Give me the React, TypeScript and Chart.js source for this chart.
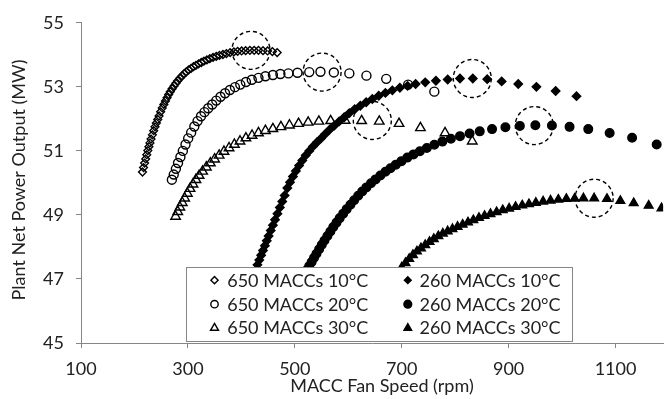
import React, { useEffect, useRef } from 'react';
import { Chart, registerables } from 'chart.js';

Chart.register(...registerables);

// ---------------- DATA ----------------
const X_TICKS = [100, 300, 500, 700, 900, 1100];
const X_MIN = 100;
const X_MAX = 1189;
const Y_MIN = 45;
const Y_MAX = 55;
const Y_STEP = 2;

const X_TITLE = 'MACC Fan Speed (rpm)';
const Y_TITLE = 'Plant Net Power Output (MW)';

const SERIES_LABELS = [
  '650 MACCs 10°C',
  '650 MACCs 20°C',
  '650 MACCs 30°C',
  '260 MACCs 10°C',
  '260 MACCs 20°C',
  '260 MACCs 30°C',
];

// 650 MACCs 10°C
const A_X = [215, 217, 219, 221, 223, 225, 227, 229, 231, 233.5, 236, 238.5, 241, 243.5, 246, 249, 252, 255, 258, 261, 264, 267, 270.5, 274, 277.5, 281, 285, 289, 293, 297, 301.5, 306, 310.5, 315, 320, 325, 330, 335.5, 341, 347, 353, 359, 365.5, 372, 379, 386, 393, 400.5, 408, 416, 424, 432, 440.5, 449, 458, 467];
const A_Y = [50.34, 50.48, 50.62, 50.75, 50.88, 51.01, 51.13, 51.25, 51.37, 51.5, 51.63, 51.75, 51.87, 51.98, 52.09, 52.22, 52.34, 52.45, 52.56, 52.66, 52.76, 52.85, 52.94, 53.03, 53.11, 53.19, 53.27, 53.34, 53.41, 53.47, 53.53, 53.58, 53.63, 53.67, 53.72, 53.76, 53.8, 53.84, 53.88, 53.92, 53.95, 53.98, 54.01, 54.04, 54.07, 54.09, 54.11, 54.12, 54.13, 54.14, 54.14, 54.14, 54.13, 54.12, 54.1, 54.07];

// 650 MACCs 20°C
const B_X = [270, 273.5, 277.5, 281.5, 286, 290.5, 295.5, 300.5, 306, 312, 318, 324.5, 331, 338, 345.5, 353, 361, 369.5, 378.5, 388, 398, 408.5, 419.5, 432, 445, 459, 473, 488, 505, 527, 548, 573, 602, 634, 671, 712, 761];
const B_Y = [50.1, 50.26, 50.44, 50.62, 50.81, 51.0, 51.2, 51.39, 51.57, 51.76, 51.93, 52.08, 52.21, 52.33, 52.45, 52.57, 52.69, 52.8, 52.9, 52.99, 53.07, 53.15, 53.22, 53.28, 53.33, 53.37, 53.4, 53.42, 53.44, 53.46, 53.47, 53.45, 53.42, 53.35, 53.25, 53.07, 52.85];

// 650 MACCs 30°C
const C_X = [277, 281, 285, 289.5, 294, 299, 304, 309.5, 315, 321, 327.5, 334.5, 342, 350, 358.5, 367.5, 377, 387, 397.5, 408.5, 420, 432, 445, 459, 474, 490, 507, 525, 545, 567, 594, 625, 658, 695, 735, 781, 832];
const C_Y = [48.95, 49.1, 49.24, 49.38, 49.52, 49.67, 49.82, 49.96, 50.1, 50.23, 50.36, 50.49, 50.62, 50.74, 50.86, 50.98, 51.09, 51.2, 51.3, 51.4, 51.48, 51.56, 51.63, 51.69, 51.75, 51.8, 51.85, 51.89, 51.92, 51.94, 51.95, 51.94, 51.92, 51.85, 51.72, 51.56, 51.3];

// 260 MACCs 10°C
const D_X = [430, 433.5, 437, 440.5, 444, 447.5, 451, 455, 459, 463, 467.5, 472, 476.5, 481, 486, 491, 496.5, 502, 508, 514, 520.5, 527, 534, 541.5, 549, 557, 565.5, 574, 583, 592.5, 602, 612, 622.5, 633.5, 645, 657, 669.5, 682.5, 696.5, 711, 726, 744, 764, 786, 809, 833, 860, 887, 918, 952, 988, 1027];
const D_Y = [47.44, 47.59, 47.74, 47.89, 48.04, 48.19, 48.34, 48.51, 48.68, 48.85, 49.04, 49.23, 49.42, 49.61, 49.84, 50.02, 50.2, 50.37, 50.54, 50.7, 50.86, 51.0, 51.14, 51.27, 51.39, 51.53, 51.67, 51.79, 51.92, 52.05, 52.18, 52.3, 52.41, 52.52, 52.62, 52.72, 52.81, 52.89, 52.97, 53.03, 53.09, 53.14, 53.19, 53.23, 53.26, 53.26, 53.24, 53.17, 53.09, 53.0, 52.87, 52.71];

// 260 MACCs 20°C
const E_X = [515, 519, 523, 527, 531.5, 536, 540.5, 545.5, 550.5, 555.5, 561, 566.5, 572, 578, 584, 590.5, 597, 604, 611, 618.5, 626, 634, 642.5, 651, 660, 669.5, 679, 689, 699.5, 710.5, 722, 734, 747, 761, 776, 792, 809, 827, 846, 869, 894, 921, 950, 981, 1014, 1049, 1089, 1131, 1177];
const E_Y = [47.05, 47.17, 47.29, 47.4, 47.53, 47.66, 47.79, 47.93, 48.07, 48.2, 48.34, 48.48, 48.62, 48.76, 48.9, 49.04, 49.18, 49.32, 49.46, 49.6, 49.73, 49.86, 49.99, 50.11, 50.23, 50.35, 50.46, 50.57, 50.68, 50.79, 50.89, 50.99, 51.09, 51.19, 51.29, 51.38, 51.46, 51.54, 51.61, 51.68, 51.74, 51.78, 51.8, 51.79, 51.75, 51.68, 51.56, 51.41, 51.2];

// 260 MACCs 30°C
const F_X = [700, 707, 714, 721, 728.5, 736, 744, 752, 760, 768.5, 777, 786, 795, 804.5, 814, 824, 834, 844.5, 855, 866, 877.5, 889, 901, 913, 925.5, 938, 951, 964.5, 978.5, 993, 1008, 1023.5, 1040, 1060, 1084, 1109, 1134, 1162, 1186];
const F_Y = [47.36, 47.5, 47.63, 47.75, 47.86, 47.96, 48.06, 48.16, 48.25, 48.34, 48.42, 48.49, 48.56, 48.63, 48.7, 48.77, 48.84, 48.91, 48.97, 49.03, 49.09, 49.15, 49.2, 49.25, 49.3, 49.34, 49.38, 49.42, 49.45, 49.48, 49.5, 49.51, 49.52, 49.52, 49.5, 49.44, 49.37, 49.29, 49.21];

// maxima highlighted with dashed circles
const HL_X = [418, 551, 645, 832, 948, 1060];
const HL_Y = [54.14, 53.46, 51.95, 53.26, 51.79, 49.52];

// ---------------- STYLE ----------------
const FONT = 'Lato, "Open Sans", sans-serif';
const TEXT = '#222222';
const AXIS = '#868686';
const MARK_LW = 1.4;

const SERIES_X = [A_X, B_X, C_X, D_X, E_X, F_X];
const SERIES_Y = [A_Y, B_Y, C_Y, D_Y, E_Y, F_Y];
const STYLES = [
  { shape: 'rectRot', r: 3.9, filled: false, lr: 3.6 },
  { shape: 'circle', r: 4.5, filled: false, lr: 3.7 },
  { shape: 'triangle', r: 5.5, filled: false, lr: 4.6 },
  { shape: 'rectRot', r: 4.2, filled: true, lr: 3.4 },
  { shape: 'circle', r: 4.3, filled: true, lr: 3.9 },
  { shape: 'triangle', r: 5.0, filled: true, lr: 4.4 },
];

function drawMarker(ctx: CanvasRenderingContext2D, shape: string, x: number, y: number, r: number, filled: boolean) {
  ctx.beginPath();
  if (shape === 'circle') {
    ctx.arc(x, y, r, 0, Math.PI * 2);
  } else if (shape === 'rectRot') {
    ctx.moveTo(x, y - r);
    ctx.lineTo(x + r, y);
    ctx.lineTo(x, y + r);
    ctx.lineTo(x - r, y);
    ctx.closePath();
  } else {
    const a = (2 * Math.PI) / 3;
    ctx.moveTo(x, y - r);
    ctx.lineTo(x + r * Math.sin(a), y - r * Math.cos(a));
    ctx.lineTo(x + r * Math.sin(2 * a), y - r * Math.cos(2 * a));
    ctx.closePath();
  }
  if (filled) {
    ctx.fillStyle = '#000';
    ctx.fill();
  }
  ctx.lineWidth = MARK_LW;
  ctx.strokeStyle = '#000';
  ctx.stroke();
}

const overlayPlugin = {
  id: 'overlay',
  afterDatasetsDraw(chart: any) {
    const { ctx, chartArea: ca } = chart;
    const xs = chart.scales.x;
    const ys = chart.scales.y;
    ctx.save();
    // dashed highlight circles
    ctx.setLineDash([4, 3]);
    ctx.lineWidth = 1.4;
    ctx.strokeStyle = '#000';
    HL_X.forEach((v, i) => {
      ctx.beginPath();
      ctx.arc(xs.getPixelForValue(v), ys.getPixelForValue(HL_Y[i]), 19, 0, Math.PI * 2);
      ctx.stroke();
    });
    ctx.setLineDash([]);

    // legend box
    const bx = Math.round(ca.left + 105) + 0.5;
    const by = Math.round(ca.top + 244) + 0.5;
    const bw = 386;
    const bh = 74;
    ctx.fillStyle = '#fff';
    ctx.fillRect(bx, by, bw, bh);
    ctx.lineWidth = 1;
    ctx.strokeStyle = AXIS;
    ctx.strokeRect(bx, by, bw, bh);

    const rowY = [12.7, 36.7, 60.5];
    const colMarker = [28, 221.3];
    const colText = [40.7, 233];
    ctx.font = `18px ${FONT}`;
    ctx.textBaseline = 'middle';
    ctx.textAlign = 'left';
    SERIES_LABELS.forEach((label, i) => {
      const col = i < 3 ? 0 : 1;
      const row = i % 3;
      const st = STYLES[i];
      const cy = by + rowY[row];
      drawMarker(ctx, st.shape, bx + colMarker[col], cy, st.lr, st.filled);
      ctx.fillStyle = TEXT;
      ctx.fillText(label, bx + colText[col], cy + 0.5);
    });
    ctx.restore();
  },
  afterDraw(chart: any) {
    const { ctx } = chart;
    ctx.save();
    ctx.fillStyle = TEXT;
    ctx.font = `18px ${FONT}`;
    ctx.textAlign = 'center';
    ctx.textBaseline = 'middle';
    ctx.fillText(X_TITLE, 382, 386);
    ctx.translate(19, 180);
    ctx.rotate(-Math.PI / 2);
    ctx.fillText(Y_TITLE, 0, 0);
    ctx.restore();
  },
};

export default function App() {
  const ref = useRef<HTMLCanvasElement | null>(null);

  useEffect(() => {
    if (!ref.current) return;
    Chart.defaults.font.family = FONT;
    const datasets = SERIES_LABELS.map((label, i) => {
      const st = STYLES[i];
      return {
        label,
        data: SERIES_X[i].map((x, j) => ({ x, y: SERIES_Y[i][j] })),
        showLine: false,
        pointStyle: st.shape,
        pointRadius: st.r,
        pointHoverRadius: st.r,
        pointBorderWidth: MARK_LW,
        borderColor: '#000',
        backgroundColor: st.filled ? '#000' : 'rgba(0,0,0,0)',
        pointBackgroundColor: st.filled ? '#000' : 'rgba(0,0,0,0)',
        pointBorderColor: '#000',
        order: 6 - i,
      };
    });

    const chart = new Chart(ref.current, {
      type: 'scatter',
      data: { datasets } as any,
      options: {
        responsive: false,
        animation: false,
        devicePixelRatio: 1,
        layout: { padding: { top: 16, right: 0, left: 0, bottom: 0 } },
        plugins: {
          legend: { display: false },
          tooltip: { enabled: false },
        },
        scales: {
          x: {
            type: 'linear',
            min: X_MIN,
            max: X_MAX,
            afterBuildTicks: (s: any) => {
              s.ticks = X_TICKS.map((v) => ({ value: v }));
            },
            afterFit: (s: any) => {
              s.height = 56;
            },
            grid: { drawOnChartArea: false, tickLength: 5, color: AXIS },
            border: { color: AXIS, width: 1 },
            ticks: {
              padding: 10,
              color: TEXT,
              font: { size: 18, family: FONT },
              maxRotation: 0,
              autoSkip: false,
              callback: (v: any) => String(v),
            },
          },
          y: {
            type: 'linear',
            min: Y_MIN,
            max: Y_MAX,
            afterFit: (s: any) => {
              s.width = 81;
            },
            grid: { drawOnChartArea: false, tickLength: 5, color: AXIS },
            border: { color: AXIS, width: 1 },
            ticks: {
              stepSize: Y_STEP,
              padding: 12,
              color: TEXT,
              font: { size: 18, family: FONT },
              callback: (v: any) => String(v),
            },
          },
        },
      } as any,
      plugins: [overlayPlugin],
    });
    return () => chart.destroy();
  }, []);

  return (
    <div style={{ position: 'absolute', left: 0, top: 0, width: 670, height: 399, background: '#fff' }}>
      <canvas ref={ref} width={670} height={399} style={{ display: 'block' }} />
    </div>
  );
}
